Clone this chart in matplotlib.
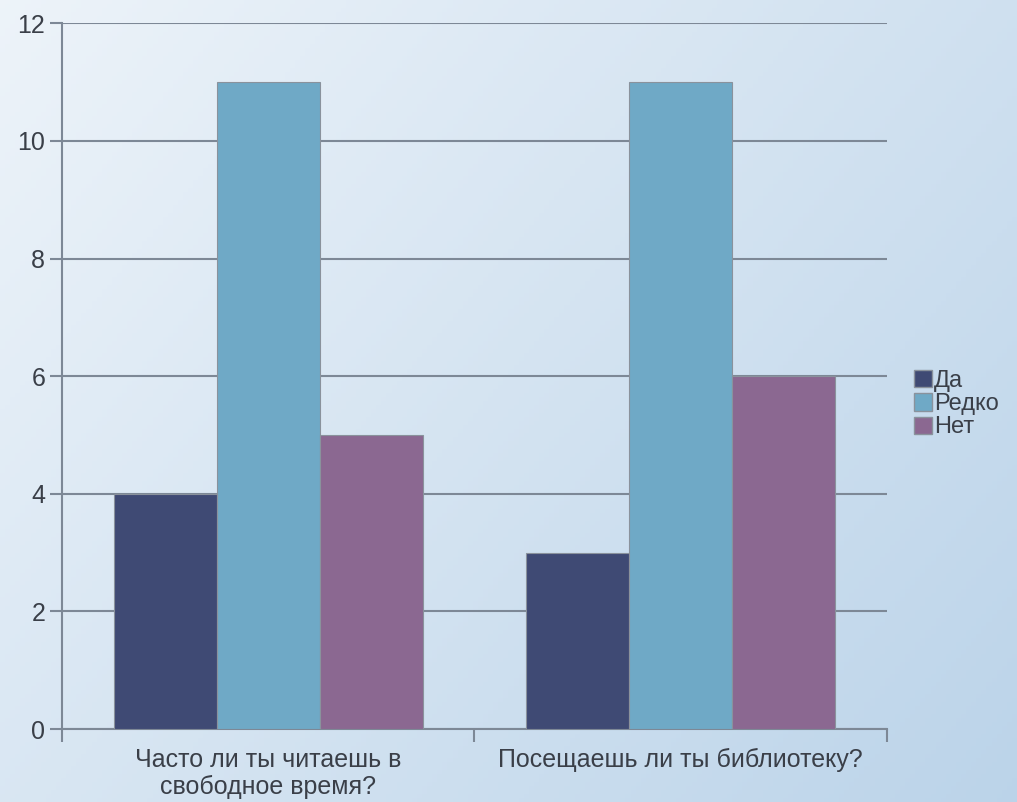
import numpy as np
import matplotlib
matplotlib.use("Agg")
import matplotlib.pyplot as plt
from matplotlib.patches import Patch

plt.rcParams["font.family"] = ["Liberation Sans", "DejaVu Sans"]

# -------------------------------------------------
# Data
# -------------------------------------------------

CATEGORIES = ["Часто ли ты читаешь в\nсвободное время?", "Посещаешь ли ты библиотеку?"]
SERIES = ["Да", "Редко", "Нет"]
DA = [4, 3]
REDKO = [11, 11]
NET = [5, 6]
COLORS = ["#3f4a74", "#6fa9c6", "#8b6891"]
YTICKS = [0, 2, 4, 6, 8, 10, 12]

GRID = "#7d8896"
TEXT = "#3a3f48"

fig = plt.figure(figsize=(10.17, 8.02), dpi=100)

# background gradient
bg = fig.add_axes([0, 0, 1, 1], zorder=-10)
gx, gy = np.meshgrid(np.linspace(0, 1, 200), np.linspace(0, 1, 200))
t = (gx * 0.6 + gy * 0.4)
top = np.array([0.93, 0.955, 0.978])
bot = np.array([0.735, 0.83, 0.915])
img = top[None, None, :] * (1 - t[..., None]) + bot[None, None, :] * t[..., None]
bg.imshow(img, aspect="auto", extent=[0, 1, 0, 1])
bg.axis("off")

ax = fig.add_axes([0.061, 0.091, 0.811, 0.880])
ax.patch.set_alpha(0)

x = np.arange(len(CATEGORIES))
w = 0.25
for i, (vals, col) in enumerate(zip([DA, REDKO, NET], COLORS)):
    ax.bar(x + (i - 1) * w, vals, width=w, color=col,
           edgecolor="#8a929c", linewidth=0.8, zorder=3)

ax.set_xlim(-0.5, 1.5)
ax.set_ylim(0, 12)
ax.set_yticks(YTICKS)
ax.set_yticklabels([str(v) for v in YTICKS], fontsize=18, color=TEXT)
ax.yaxis.grid(True, color=GRID, linewidth=1.5, zorder=0)

ax.set_xticks(x)
ax.set_xticklabels(CATEGORIES, fontsize=18, color=TEXT, linespacing=1.12)
ax.set_xticks([-0.5, 0.5, 1.5], minor=True)
ax.tick_params(axis="x", which="major", length=0, pad=14)
ax.tick_params(axis="x", which="minor", length=9, color=GRID, width=1.5)
ax.tick_params(axis="y", length=9, color=GRID, width=1.5, pad=3)

for s in ["top", "right"]:
    ax.spines[s].set_visible(False)
for s in ["left", "bottom"]:
    ax.spines[s].set_color(GRID)
    ax.spines[s].set_linewidth(1.5)

handles = [Patch(facecolor=c, edgecolor="#8a929c") for c in COLORS]
fig.legend(handles, SERIES, loc="center left", bbox_to_anchor=(0.887, 0.496),
           frameon=False, fontsize=17, handlelength=0.75, handleheight=0.75,
           handletextpad=0.1, labelspacing=0.05, borderpad=0,
           labelcolor=TEXT)

fig.savefig("out.png", dpi=100)
